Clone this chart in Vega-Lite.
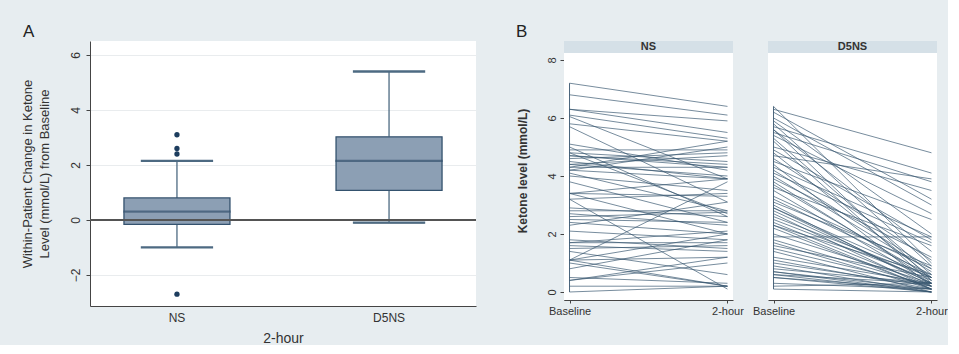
{
  "$schema": "https://vega.github.io/schema/vega-lite/v6.json",
  "background": "#e7edf0",
  "padding": {"left": 21, "top": 23, "right": 0, "bottom": 0},
  "datasets": {
    "patients": [
      {"id":1,"group":"NS","Baseline":7.2,"2-hour":6.4,"change":0.8},
      {"id":2,"group":"NS","Baseline":6.8,"2-hour":6.1,"change":0.7},
      {"id":3,"group":"NS","Baseline":6.3,"2-hour":5.5,"change":0.8},
      {"id":4,"group":"NS","Baseline":6.3,"2-hour":5.9,"change":0.4},
      {"id":5,"group":"NS","Baseline":6.05,"2-hour":3.9,"change":2.15},
      {"id":6,"group":"NS","Baseline":6.1,"2-hour":5.3,"change":0.8},
      {"id":7,"group":"NS","Baseline":5.8,"2-hour":5.2,"change":0.6},
      {"id":8,"group":"NS","Baseline":5.7,"2-hour":3.1,"change":2.6},
      {"id":9,"group":"NS","Baseline":5.1,"2-hour":4.2,"change":0.9},
      {"id":10,"group":"NS","Baseline":5.0,"2-hour":2.6,"change":2.4},
      {"id":11,"group":"NS","Baseline":4.9,"2-hour":4.9,"change":0},
      {"id":12,"group":"NS","Baseline":4.8,"2-hour":4.5,"change":0.3},
      {"id":13,"group":"NS","Baseline":4.8,"2-hour":2.7,"change":2.1},
      {"id":14,"group":"NS","Baseline":4.7,"2-hour":4.4,"change":0.3},
      {"id":15,"group":"NS","Baseline":4.7,"2-hour":4.3,"change":0.4},
      {"id":16,"group":"NS","Baseline":4.6,"2-hour":4.8,"change":-0.2},
      {"id":17,"group":"NS","Baseline":4.5,"2-hour":3.9,"change":0.6},
      {"id":18,"group":"NS","Baseline":4.4,"2-hour":4.0,"change":0.4},
      {"id":19,"group":"NS","Baseline":4.3,"2-hour":5.2,"change":-0.9},
      {"id":20,"group":"NS","Baseline":4.3,"2-hour":4.3,"change":0},
      {"id":21,"group":"NS","Baseline":4.2,"2-hour":3.9,"change":0.3},
      {"id":22,"group":"NS","Baseline":4.2,"2-hour":5.0,"change":-0.8},
      {"id":23,"group":"NS","Baseline":4.1,"2-hour":2.8,"change":1.3},
      {"id":24,"group":"NS","Baseline":4.0,"2-hour":3.5,"change":0.5},
      {"id":25,"group":"NS","Baseline":3.8,"2-hour":2.4,"change":1.4},
      {"id":26,"group":"NS","Baseline":3.4,"2-hour":3.3,"change":0.1},
      {"id":27,"group":"NS","Baseline":3.4,"2-hour":2.0,"change":1.4},
      {"id":28,"group":"NS","Baseline":3.2,"2-hour":3.4,"change":-0.2},
      {"id":29,"group":"NS","Baseline":2.9,"2-hour":2.6,"change":0.3},
      {"id":30,"group":"NS","Baseline":3.2,"2-hour":0.1,"change":3.1},
      {"id":31,"group":"NS","Baseline":2.8,"2-hour":2.8,"change":0},
      {"id":32,"group":"NS","Baseline":2.7,"2-hour":2.3,"change":0.4},
      {"id":33,"group":"NS","Baseline":2.6,"2-hour":2.75,"change":-0.15},
      {"id":34,"group":"NS","Baseline":2.5,"2-hour":2.4,"change":0.1},
      {"id":35,"group":"NS","Baseline":2.4,"2-hour":2.0,"change":0.4},
      {"id":36,"group":"NS","Baseline":2.3,"2-hour":3.1,"change":-0.8},
      {"id":37,"group":"NS","Baseline":2.1,"2-hour":1.8,"change":0.3},
      {"id":38,"group":"NS","Baseline":1.8,"2-hour":1.5,"change":0.3},
      {"id":39,"group":"NS","Baseline":1.7,"2-hour":1.7,"change":0},
      {"id":40,"group":"NS","Baseline":1.7,"2-hour":2.1,"change":-0.4},
      {"id":41,"group":"NS","Baseline":1.6,"2-hour":1.4,"change":0.2},
      {"id":42,"group":"NS","Baseline":1.5,"2-hour":1.6,"change":-0.1},
      {"id":43,"group":"NS","Baseline":1.4,"2-hour":0.6,"change":0.8},
      {"id":44,"group":"NS","Baseline":1.1,"2-hour":3.8,"change":-2.7},
      {"id":45,"group":"NS","Baseline":1.1,"2-hour":2.0,"change":-0.9},
      {"id":46,"group":"NS","Baseline":1.1,"2-hour":1.2,"change":-0.1},
      {"id":47,"group":"NS","Baseline":1.1,"2-hour":0.2,"change":0.9},
      {"id":48,"group":"NS","Baseline":1.0,"2-hour":0.2,"change":0.8},
      {"id":49,"group":"NS","Baseline":0.8,"2-hour":1.8,"change":-1.0},
      {"id":50,"group":"NS","Baseline":0.5,"2-hour":0.3,"change":0.2},
      {"id":51,"group":"NS","Baseline":0.4,"2-hour":1.0,"change":-0.6},
      {"id":52,"group":"NS","Baseline":0.4,"2-hour":1.2,"change":-0.8},
      {"id":53,"group":"NS","Baseline":0.2,"2-hour":0.2,"change":0},
      {"id":54,"group":"NS","Baseline":0.0,"2-hour":0.2,"change":-0.2},
      {"id":55,"group":"NS","Baseline":4.4,"2-hour":4.7,"change":-0.3},
      {"id":56,"group":"NS","Baseline":3.4,"2-hour":3.9,"change":-0.5},
      {"id":101,"group":"D5NS","Baseline":6.4,"2-hour":1.0,"change":5.4},
      {"id":102,"group":"D5NS","Baseline":6.3,"2-hour":4.8,"change":1.5},
      {"id":103,"group":"D5NS","Baseline":6.2,"2-hour":3.2,"change":3.0},
      {"id":104,"group":"D5NS","Baseline":6.0,"2-hour":3.0,"change":3.0},
      {"id":105,"group":"D5NS","Baseline":5.8,"2-hour":0.9,"change":4.9},
      {"id":106,"group":"D5NS","Baseline":5.7,"2-hour":4.1,"change":1.6},
      {"id":107,"group":"D5NS","Baseline":5.6,"2-hour":0.4,"change":5.2},
      {"id":108,"group":"D5NS","Baseline":5.6,"2-hour":1.4,"change":4.2},
      {"id":109,"group":"D5NS","Baseline":5.5,"2-hour":3.8,"change":1.7},
      {"id":110,"group":"D5NS","Baseline":5.3,"2-hour":0.6,"change":4.7},
      {"id":111,"group":"D5NS","Baseline":5.2,"2-hour":0.3,"change":4.9},
      {"id":112,"group":"D5NS","Baseline":5.0,"2-hour":3.5,"change":1.5},
      {"id":113,"group":"D5NS","Baseline":4.8,"2-hour":0.5,"change":4.3},
      {"id":114,"group":"D5NS","Baseline":4.7,"2-hour":3.9,"change":0.8},
      {"id":115,"group":"D5NS","Baseline":4.6,"2-hour":1.1,"change":3.5},
      {"id":116,"group":"D5NS","Baseline":4.5,"2-hour":2.5,"change":2.0},
      {"id":117,"group":"D5NS","Baseline":4.4,"2-hour":0.2,"change":4.2},
      {"id":118,"group":"D5NS","Baseline":4.3,"2-hour":1.9,"change":2.4},
      {"id":119,"group":"D5NS","Baseline":4.2,"2-hour":0.8,"change":3.4},
      {"id":120,"group":"D5NS","Baseline":4.1,"2-hour":1.7,"change":2.4},
      {"id":121,"group":"D5NS","Baseline":4.0,"2-hour":0.7,"change":3.3},
      {"id":122,"group":"D5NS","Baseline":3.9,"2-hour":1.2,"change":2.7},
      {"id":123,"group":"D5NS","Baseline":3.8,"2-hour":0.4,"change":3.4},
      {"id":124,"group":"D5NS","Baseline":3.6,"2-hour":1.6,"change":2.0},
      {"id":125,"group":"D5NS","Baseline":3.5,"2-hour":0.3,"change":3.2},
      {"id":126,"group":"D5NS","Baseline":3.3,"2-hour":0.8,"change":2.5},
      {"id":127,"group":"D5NS","Baseline":3.2,"2-hour":0.6,"change":2.6},
      {"id":128,"group":"D5NS","Baseline":3.1,"2-hour":0.9,"change":2.2},
      {"id":129,"group":"D5NS","Baseline":3.0,"2-hour":0.2,"change":2.8},
      {"id":130,"group":"D5NS","Baseline":2.9,"2-hour":0.5,"change":2.4},
      {"id":131,"group":"D5NS","Baseline":2.8,"2-hour":0.3,"change":2.5},
      {"id":132,"group":"D5NS","Baseline":2.7,"2-hour":0.1,"change":2.6},
      {"id":133,"group":"D5NS","Baseline":2.6,"2-hour":0.5,"change":2.1},
      {"id":134,"group":"D5NS","Baseline":2.5,"2-hour":0.4,"change":2.1},
      {"id":135,"group":"D5NS","Baseline":2.4,"2-hour":0.2,"change":2.2},
      {"id":136,"group":"D5NS","Baseline":2.3,"2-hour":0.6,"change":1.7},
      {"id":137,"group":"D5NS","Baseline":2.2,"2-hour":0.1,"change":2.1},
      {"id":138,"group":"D5NS","Baseline":2.0,"2-hour":0.3,"change":1.7},
      {"id":139,"group":"D5NS","Baseline":1.9,"2-hour":1.9,"change":0},
      {"id":140,"group":"D5NS","Baseline":1.8,"2-hour":0.2,"change":1.6},
      {"id":141,"group":"D5NS","Baseline":1.7,"2-hour":0.1,"change":1.6},
      {"id":142,"group":"D5NS","Baseline":1.6,"2-hour":0.5,"change":1.1},
      {"id":143,"group":"D5NS","Baseline":1.5,"2-hour":0.2,"change":1.3},
      {"id":144,"group":"D5NS","Baseline":1.4,"2-hour":0.0,"change":1.4},
      {"id":145,"group":"D5NS","Baseline":1.2,"2-hour":0.3,"change":0.9},
      {"id":146,"group":"D5NS","Baseline":1.1,"2-hour":0.1,"change":1.0},
      {"id":147,"group":"D5NS","Baseline":1.0,"2-hour":0.2,"change":0.8},
      {"id":148,"group":"D5NS","Baseline":0.9,"2-hour":0.0,"change":0.9},
      {"id":149,"group":"D5NS","Baseline":2.3,"2-hour":0.1,"change":2.2},
      {"id":150,"group":"D5NS","Baseline":0.8,"2-hour":0.3,"change":0.5},
      {"id":151,"group":"D5NS","Baseline":0.7,"2-hour":0.1,"change":0.6},
      {"id":152,"group":"D5NS","Baseline":2.9,"2-hour":0.3,"change":2.6},
      {"id":153,"group":"D5NS","Baseline":0.6,"2-hour":0.0,"change":0.6},
      {"id":154,"group":"D5NS","Baseline":0.6,"2-hour":0.3,"change":0.3},
      {"id":155,"group":"D5NS","Baseline":0.5,"2-hour":0.1,"change":0.4},
      {"id":156,"group":"D5NS","Baseline":0.3,"2-hour":0.1,"change":0.2},
      {"id":157,"group":"D5NS","Baseline":0.2,"2-hour":0.3,"change":-0.1},
      {"id":158,"group":"D5NS","Baseline":0.1,"2-hour":0.0,"change":0.1},
      {"id":159,"group":"D5NS","Baseline":5.9,"2-hour":2.0,"change":3.9},
      {"id":160,"group":"D5NS","Baseline":5.4,"2-hour":2.7,"change":2.7},
      {"id":161,"group":"D5NS","Baseline":4.9,"2-hour":1.8,"change":3.1},
      {"id":162,"group":"D5NS","Baseline":3.7,"2-hour":0.5,"change":3.2},
      {"id":163,"group":"D5NS","Baseline":0.7,"2-hour":0.0,"change":0.7},
      {"id":164,"group":"D5NS","Baseline":0.5,"2-hour":0.0,"change":0.5}
    ]
  },
  "spacing": 39,
  "hconcat": [
    {
      "title": {"text": "A", "anchor": "start", "frame": "bounds", "fontSize": 17, "fontWeight": "normal", "color": "#222", "offset": 0, "dx": 2},
      "data": {"name": "patients"},
      "width": 386,
      "height": 265,
      "layer": [
        {
          "mark": {
            "type": "boxplot",
            "extent": 1.5,
            "size": 106,
            "box": {"fill": "#8c9fb4", "stroke": "#34526e", "strokeWidth": 1.3},
            "median": {"stroke": "#34526e", "strokeWidth": 1.3},
            "rule": {"stroke": "#4d6a82", "strokeWidth": 1.3},
            "ticks": {"stroke": "#4d6a82", "size": 71, "strokeWidth": 1.3},
            "outliers": {"fill": "#1d3d5e", "filled": true, "size": 28, "strokeWidth": 0, "opacity": 1}
          },
          "encoding": {
            "x": {
              "field": "group", "type": "nominal", "sort": ["NS", "D5NS"],
              "scale": {"paddingInner": 0.5, "paddingOuter": 0.16},
              "axis": {"title": "2-hour", "labelAngle": 0, "ticks": false, "grid": false, "labelFontSize": 12, "titleFontSize": 14, "titleFontWeight": "normal", "labelPadding": 6, "titlePadding": 8}
            },
            "y": {
              "field": "change", "type": "quantitative",
              "scale": {"domain": [-3.13, 6.51], "nice": false, "zero": false},
              "axis": {"values": [-2, 0, 2, 4, 6], "labelAngle": -90, "labelAlign": "center", "labelBaseline": "bottom", "tickSize": 4, "labelPadding": 4, "labelFontSize": 12,
                "title": ["Within-Patient Change in Ketone", "Level (mmol/L) from Baseline"], "titleFontSize": 13, "titleFontWeight": "normal", "titleLineHeight": 17, "titlePadding": 18}
            }
          }
        },
        {
          "mark": {"type": "rule", "color": "#555", "strokeWidth": 1.6},
          "encoding": {"y": {"datum": 0, "type": "quantitative"}}
        }
      ]
    },
    {
      "title": {"text": "B", "anchor": "start", "frame": "bounds", "fontSize": 17, "fontWeight": "normal", "color": "#222", "offset": 0},
      "data": {"name": "patients"},
      "facet": {"column": {"field": "group", "type": "nominal", "sort": ["NS", "D5NS"], "header": null}},
      "spacing": 35,
      "spec": {
        "width": 169,
        "height": 259,
        "layer": [
          {
            "transform": [{"aggregate": [{"op": "count", "as": "n"}], "groupby": ["group"]}],
            "mark": {"type": "rect", "fill": "#d5e0e7"},
            "encoding": {"y": {"datum": 8.241, "type": "quantitative"}, "y2": {"datum": 8.655}}
          },
          {
            "transform": [{"aggregate": [{"op": "count", "as": "n"}], "groupby": ["group"]}],
            "mark": {"type": "text", "fontSize": 11, "fontWeight": "bold", "color": "#333", "baseline": "middle"},
            "encoding": {"text": {"field": "group", "type": "nominal"}, "y": {"datum": 8.448, "type": "quantitative"}}
          },
          {
            "transform": [{"fold": ["Baseline", "2-hour"], "as": ["time", "ketone"]}],
            "mark": {"type": "line", "color": "#36546d", "strokeWidth": 0.85, "opacity": 0.8},
            "encoding": {
              "x": {"field": "time", "type": "nominal", "sort": ["Baseline", "2-hour"],
                "scale": {"type": "point", "padding": 0.035, "domain": ["Baseline", "2-hour"]},
                "axis": {"title": null, "labelAngle": 0, "tickSize": 3, "labelPadding": 2, "labelFontSize": 11, "grid": false}},
              "y": {"field": "ketone", "type": "quantitative",
                "scale": {"domain": [-0.276, 8.655], "nice": false, "zero": false},
                "axis": {"values": [0, 2, 4, 6, 8], "labelAngle": -90, "labelAlign": "center", "labelBaseline": "bottom", "tickSize": 4, "labelPadding": 3, "labelFontSize": 11,
                  "title": "Ketone level (mmol/L)", "titleFontSize": 12, "titleFontWeight": "bold", "titlePadding": 17}},
              "detail": {"field": "id", "type": "nominal"}
            }
          },
          {
            "transform": [{"fold": ["Baseline", "2-hour"], "as": ["time", "ketone"]}, {"filter": "datum.time == 'Baseline'"}],
            "mark": {"type": "rule", "color": "#36546d", "strokeWidth": 0.9},
            "encoding": {
              "x": {"field": "time", "type": "nominal", "sort": ["Baseline", "2-hour"]},
              "y": {"aggregate": "min", "field": "ketone", "type": "quantitative"},
              "y2": {"aggregate": "max", "field": "ketone"}
            }
          }
        ]
      }
    }
  ],
  "config": {
    "font": "Liberation Sans",
    "view": {"stroke": null, "fill": "white"},
    "axis": {
      "labelColor": "#333", "titleColor": "#333", "domainColor": "#444", "tickColor": "#444",
      "gridColor": "#e9ecee", "labelFont": "Liberation Sans", "titleFont": "Liberation Sans"
    }
  }
}
